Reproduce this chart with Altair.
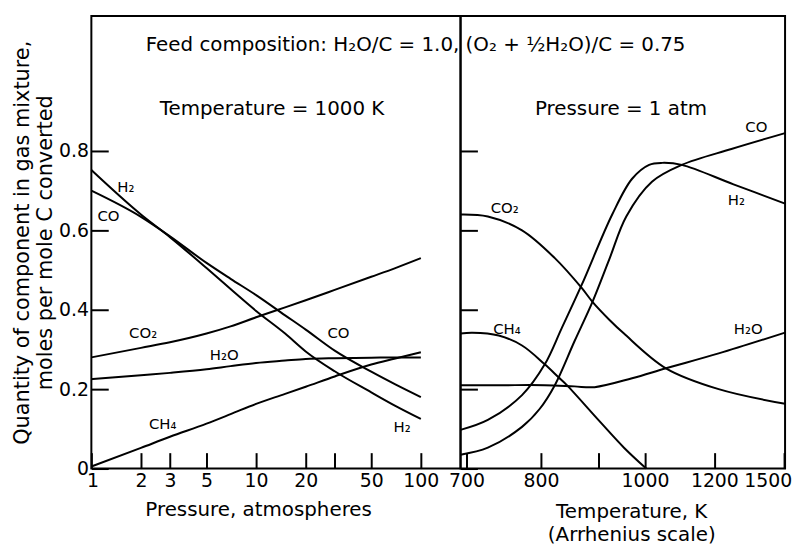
import altair as alt
import pandas as pd

# ---------------- data ----------------
# Left panel: T = 1000 K, pressure in atm (log scale)
pressure = [1, 2, 3, 5, 7, 10, 15, 20, 30, 50, 70, 100]
p_H2 = [0.752, 0.640, 0.583, 0.505, 0.452, 0.397, 0.340, 0.295, 0.245, 0.192, 0.158, 0.125]
p_CO = [0.700, 0.634, 0.585, 0.518, 0.478, 0.437, 0.386, 0.350, 0.297, 0.244, 0.212, 0.180]
p_CO2 = [0.280, 0.304, 0.318, 0.340, 0.358, 0.381, 0.406, 0.424, 0.450, 0.483, 0.505, 0.530]
p_H2O = [0.225, 0.235, 0.241, 0.250, 0.258, 0.266, 0.272, 0.276, 0.278, 0.279, 0.280, 0.280]
p_CH4 = [0.005, 0.052, 0.080, 0.113, 0.137, 0.163, 0.188, 0.206, 0.232, 0.262, 0.277, 0.293]

# Right panel: P = 1 atm, temperature in K (Arrhenius scale)
t_CO2 = [693, 726, 772, 822, 868, 888, 921, 952, 1053, 1215, 1507]
v_CO2 = [0.640, 0.635, 0.600, 0.530, 0.455, 0.420, 0.375, 0.340, 0.2525, 0.200, 0.163]
t_CH4 = [693, 707, 740, 772, 806, 828, 842, 901, 952, 1003]
v_CH4 = [0.340, 0.342, 0.335, 0.310, 0.2625, 0.230, 0.210, 0.120, 0.0525, 0.0]
t_H2O = [693, 742, 806, 855, 892, 970, 1053, 1215, 1507]
v_H2O = [0.210, 0.210, 0.210, 0.207, 0.205, 0.2275, 0.2525, 0.290, 0.3425]
t_H2 = [693, 726, 772, 806, 833, 868, 927, 970, 1010, 1043, 1097, 1270, 1507]
v_H2 = [0.0975, 0.1225, 0.185, 0.2625, 0.3525, 0.4625, 0.640, 0.730, 0.765, 0.770, 0.765, 0.716, 0.6675]
t_CO = [693, 726, 772, 798, 822, 855, 888, 921, 957, 1017, 1097, 1262, 1507]
v_CO = [0.035, 0.0525, 0.105, 0.150, 0.210, 0.320, 0.420, 0.527, 0.635, 0.7225, 0.765, 0.805, 0.845]

# curve labels (text, x in data units, y in data units)
left_label_text = ["H₂", "CO", "CO₂", "H₂O", "CO", "CH₄", "H₂"]
left_label_p = [1.62, 1.27, 2.06, 6.4, 31.6, 2.71, 77]
left_label_v = [0.71, 0.635, 0.3425, 0.285, 0.3425, 0.1125, 0.105]
right_label_text = ["CO₂", "CH₄", "CO", "H₂", "H₂O"]
right_label_t = [748, 751, 1365, 1281, 1330]
right_label_v = [0.655, 0.3525, 0.86, 0.6775, 0.3525]

# annotations
feed_text = "Feed composition: H₂O/C = 1.0, (O₂ + ½H₂O)/C = 0.75"
feed_p, feed_v = 2.14, 1.068
temp_text = "Temperature = 1000 K"
temp_p, temp_v = 2.6, 0.905
pres_text = "Pressure = 1 atm"
pres_t, pres_v = 791, 0.905

# axes
pressure_ticks = [1, 2, 3, 5, 10, 20, 30, 50, 100]
temp_ticks = [700, 800, 900, 1000, 1200, 1500]
y_ticks = [0, 0.2, 0.4, 0.6, 0.8]
Y_MAX = 1.14
T_MIN, T_MAX = 693, 1507
LEFT_W, RIGHT_W, H = 372, 327, 456
P_MAX = 10 ** (2 * LEFT_W / 332)  # left panel runs a little past 100 atm (break gap)

FONT = "DejaVu Sans"

# ---------------- tables ----------------
left_rows = []
for name, vals in [("H2", p_H2), ("CO", p_CO), ("CO2", p_CO2), ("H2O", p_H2O), ("CH4", p_CH4)]:
    for p, v in zip(pressure, vals):
        left_rows.append({"species": name, "P": p, "q": v})
left_df = pd.DataFrame(left_rows)

right_rows = []
for name, ts, vals in [("CO2", t_CO2, v_CO2), ("CH4", t_CH4, v_CH4), ("H2O", t_H2O, v_H2O),
                       ("H2", t_H2, v_H2), ("CO", t_CO, v_CO)]:
    for t, v in zip(ts, vals):
        right_rows.append({"species": name, "T": t, "u": 1000.0 / t, "q": v})
right_df = pd.DataFrame(right_rows)

left_lab = pd.DataFrame({"text": left_label_text, "P": left_label_p, "q": left_label_v})
right_lab = pd.DataFrame({"text": right_label_text, "u": [1000.0 / t for t in right_label_t],
                          "q": right_label_v})
left_ann = pd.DataFrame({"text": [feed_text, temp_text], "P": [feed_p, temp_p], "q": [feed_v, temp_v]})
right_ann = pd.DataFrame({"text": [pres_text], "u": [1000.0 / pres_t], "q": [pres_v]})

# ---------------- encodings ----------------
y_left = alt.Y(
    "q:Q",
    scale=alt.Scale(domain=[0, Y_MAX], nice=False, zero=False),
    axis=alt.Axis(
        values=y_ticks, labelExpr="datum.value == 0 ? '0' : format(datum.value, '.1f')",
        orient="left", offset=-17, tickSize=17, domain=False, labelPadding=3,
        title=["Quantity of component in gas mixture,", "moles per mole C converted"],
        titlePadding=3, titleFontSize=21, titleLineHeight=23,
    ),
)
y_right = alt.Y(
    "q:Q",
    scale=alt.Scale(domain=[0, Y_MAX], nice=False, zero=False),
    axis=alt.Axis(values=y_ticks, orient="left", offset=-17, tickSize=17, domain=False,
                  labels=False, title=None),
)
x_left = alt.X(
    "P:Q",
    scale=alt.Scale(type="log", domain=[1, P_MAX], nice=False),
    axis=alt.Axis(
        values=pressure_ticks, labelExpr="datum.value == 30 ? '' : format(datum.value, 'd')",
        offset=-16, tickSize=16, domain=False, labelPadding=3, labelFlush=True,
        labelFlushOffset=5, title="Pressure, atmospheres", titlePadding=9,
        titleX=168, titleAlign="center",
    ),
)
x_right = alt.X(
    "u:Q",
    scale=alt.Scale(domain=[1000.0 / T_MIN, 1000.0 / T_MAX], nice=False, zero=False),
    axis=alt.Axis(
        values=[1000.0 / t for t in temp_ticks],
        labelExpr="round(1000/datum.value) == 900 ? '' : '' + round(1000/datum.value)",
        offset=-16, tickSize=16, domain=False, labelPadding=3, labelFlush=5,
        labelFlushOffset=8, title=["Temperature, K", "(Arrhenius scale)"], titlePadding=11,
        titleLineHeight=24, titleX=172, titleAlign="center",
    ),
)

left_lines = alt.Chart(left_df).mark_line(
    color="black", strokeWidth=2, interpolate="monotone"
).encode(x=x_left, y=y_left, detail="species:N", order="P:Q")
left_labels = alt.Chart(left_lab).mark_text(
    font=FONT, fontSize=15, color="black", align="center", baseline="middle"
).encode(x=x_left, y=y_left, text="text:N")
left_annot = alt.Chart(left_ann).mark_text(
    font=FONT, fontSize=20, color="black", align="left", baseline="middle"
).encode(x=x_left, y=y_left, text="text:N")
left = alt.layer(left_lines, left_labels, left_annot).properties(width=LEFT_W, height=H)

right_lines = alt.Chart(right_df).mark_line(
    color="black", strokeWidth=2, interpolate="catmull-rom"
).encode(x=x_right, y=y_right, detail="species:N", order="T:Q")
right_labels = alt.Chart(right_lab).mark_text(
    font=FONT, fontSize=15, color="black", align="center", baseline="middle"
).encode(x=x_right, y=y_right, text="text:N")
right_annot = alt.Chart(right_ann).mark_text(
    font=FONT, fontSize=20, color="black", align="left", baseline="middle"
).encode(x=x_right, y=y_right, text="text:N")
right = alt.layer(right_lines, right_labels, right_annot).properties(width=RIGHT_W, height=H)

chart = (
    alt.HConcatChart(hconcat=[left, right], spacing=0, bounds="flush")
    .properties(padding={"left": 2, "top": 5, "right": 0, "bottom": 0}, background="white")
    .configure_view(stroke="black", strokeWidth=2)
    .configure_axis(
        labelFont=FONT, labelFontSize=19, labelColor="black",
        titleFont=FONT, titleFontSize=20, titleFontWeight="normal", titleColor="black",
        tickColor="black", tickWidth=2, grid=False,
    )
)

chart.save("out.html", embed_options={"renderer": "svg", "actions": False})
